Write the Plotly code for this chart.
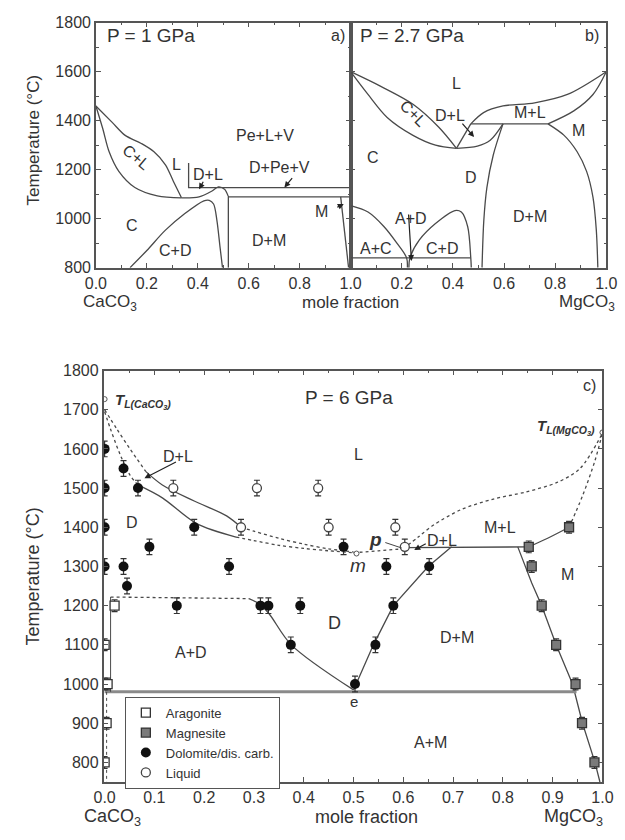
import plotly.graph_objects as go

# ---------------- Panel a (P = 1 GPa) ----------------
a_CL_up_x = [0, 0.064, 0.115, 0.178, 0.228, 0.273, 0.304, 0.336]
a_CL_up_T = [1460, 1393, 1340, 1307, 1273, 1220, 1153, 1085]
a_CL_lo_x = [0, 0.027, 0.052, 0.09, 0.153, 0.241, 0.336]
a_CL_lo_T = [1460, 1367, 1273, 1193, 1127, 1093, 1085]
a_D_x = [0.336, 0.405, 0.456, 0.481, 0.505, 0.519]
a_D_T = [1085, 1089, 1113, 1130, 1120, 1093]
a_DM_x = [0.52, 0.52]
a_DM_T = [1093, 800]
a_CD_x = [0.134, 0.2, 0.273, 0.348, 0.424, 0.445, 0.462, 0.475, 0.487, 0.497]
a_CD_T = [800, 870, 953, 1020, 1073, 1075, 1060, 993, 887, 800]
a_up_x = [0.364, 0.364, 1.0]
a_up_T = [1227, 1127, 1127]
a_lo_x = [0.52, 1.0]
a_lo_T = [1089, 1089]
a_M_x = [0.961, 0.992]
a_M_T = [1089, 800]

# ---------------- Panel b (P = 2.7 GPa) ----------------
b_CL_up_x = [0, 0.118, 0.244, 0.345, 0.414]
b_CL_up_T = [1600, 1540, 1467, 1373, 1287]
b_CL_lo_x = [0, 0.068, 0.143, 0.244, 0.332, 0.414]
b_CL_lo_T = [1600, 1507, 1413, 1340, 1300, 1287]
b_Dsol_x = [0.414, 0.496, 0.546, 0.596]
b_Dsol_T = [1287, 1296, 1320, 1387]
b_Dliq_x = [0.414, 0.47]
b_Dliq_T = [1287, 1387]
b_ML_x = [0.47, 0.52, 0.596, 0.72, 0.848, 1.0]
b_ML_T = [1387, 1433, 1460, 1473, 1507, 1600]
b_per_x = [0.47, 0.772]
b_per_T = [1387, 1387]
b_Msol_x = [0.772, 0.873, 0.948, 1.0]
b_Msol_T = [1387, 1440, 1507, 1600]
b_Msv_x = [0.772, 0.835, 0.886, 0.923, 0.948, 0.961, 0.967]
b_Msv_T = [1387, 1340, 1273, 1193, 1087, 953, 800]
b_Dsv_x = [0.596, 0.558, 0.533, 0.521, 0.514]
b_Dsv_T = [1387, 1260, 1127, 993, 800]
b_AC_x = [0, 0.068, 0.131, 0.181, 0.219, 0.222]
b_AC_T = [1053, 1027, 967, 900, 840, 800]
b_CD_x = [0.228, 0.232, 0.269, 0.332, 0.408, 0.433, 0.458, 0.47, 0.472]
b_CD_T = [800, 840, 913, 980, 1033, 1027, 967, 840, 800]
b_hz_x = [0, 0.47]
b_hz_T = [840, 840]

# ---------------- Panel c (P = 6 GPa) ----------------
c_liq_d1_x = [0, 0.025, 0.051, 0.083]
c_liq_d1_T = [1700, 1650, 1600, 1542]
c_liq_s_x = [0.083, 0.116, 0.18, 0.245, 0.274]
c_liq_s_T = [1542, 1508, 1467, 1429, 1400]
c_liq_d2_x = [0.274, 0.3, 0.35, 0.4, 0.45, 0.5]
c_liq_d2_T = [1400, 1390, 1372, 1357, 1345, 1337]
c_sol_d1_x = [0, 0.012, 0.032, 0.051, 0.067]
c_sol_d1_T = [1695, 1650, 1583, 1533, 1508]
c_sol_s_x = [0.067, 0.116, 0.184, 0.264]
c_sol_s_T = [1508, 1475, 1410, 1375]
c_sol_d2_x = [0.264, 0.3, 0.35, 0.4, 0.45, 0.5]
c_sol_d2_T = [1375, 1366, 1354, 1346, 1340, 1335]
c_mp_x = [0.5, 0.55, 0.6]
c_mp_T = [1335, 1340, 1345]
c_rliq_x = [0.6, 0.63, 0.66, 0.716, 0.781, 0.846, 0.91, 0.955, 1.0]
c_rliq_T = [1345, 1375, 1405, 1445, 1472, 1490, 1515, 1550, 1640]
c_Msol_s_x = [0.852, 0.89, 0.933]
c_Msol_s_T = [1350, 1372, 1400]
c_Msol_d_x = [0.933, 0.96, 0.985, 1.0]
c_Msol_d_T = [1400, 1480, 1570, 1640]
c_per_x = [0.605, 0.852]
c_per_T = [1348, 1350]
c_Dsv_x = [0.5, 0.54, 0.58, 0.65, 0.697]
c_Dsv_T = [985, 1100, 1200, 1300, 1350]
c_Msv_x = [0.83, 0.858, 0.878, 0.907, 0.94, 0.96, 0.985, 0.995]
c_Msv_T = [1350, 1258, 1200, 1100, 1000, 900, 800, 750]
c_AD_d_x = [0.012, 0.29]
c_AD_d_T = [1222, 1218]
c_AD_s_x = [0.29, 0.31, 0.33, 0.375, 0.5]
c_AD_s_T = [1218, 1205, 1180, 1100, 985]
c_eut_x = [0, 0.948]
c_eut_T = [980, 980]
c_vert_x = [0.012, 0.012]
c_vert_T = [1222, 980]
c_vert2_x = [0.004, 0.004]
c_vert2_T = [980, 750]

arag_x = [0.0, 0.004, 0.0, 0.006, 0.0, 0.02]
arag_T = [800, 900, 1000, 1000, 1100, 1200]
magn_x = [0.852, 0.858, 0.933, 0.878, 0.907, 0.946, 0.959, 0.984]
magn_T = [1350, 1300, 1400, 1200, 1100, 1000, 900, 800]
dolo_x = [0.0, 0.0, 0.0, 0.0, 0.038, 0.067, 0.09, 0.18, 0.038, 0.045, 0.145, 0.25,
          0.313, 0.329, 0.374, 0.393, 0.48, 0.503, 0.544, 0.566, 0.58, 0.652]
dolo_T = [1600, 1500, 1400, 1300, 1550, 1500, 1350, 1400, 1300, 1250, 1200, 1300,
          1200, 1200, 1100, 1200, 1350, 1000, 1100, 1300, 1200, 1300]
liq_x = [0.138, 0.306, 0.429, 0.274, 0.45, 0.584, 0.603]
liq_T = [1500, 1500, 1500, 1400, 1400, 1400, 1350]
tl_x = [0.0, 1.0, 0.506]
tl_T = [1727, 1642, 1333]

LC = "#4a4a4a"
TC = "#333333"
FONT = "Liberation Sans, Arial, sans-serif"

fig = go.Figure()


def line(xs, ys, ax, dash="solid", width=1.3, color=LC, shape="spline"):
    xa, ya = {"a": ("x", "y"), "b": ("x2", "y2"), "c": ("x3", "y3")}[ax]
    fig.add_trace(go.Scatter(x=xs, y=ys, mode="lines", xaxis=xa, yaxis=ya,
                             line=dict(color=color, width=width, dash=dash, shape=shape, smoothing=0.9),
                             showlegend=False, hoverinfo="skip"))


# panel a
line(a_CL_up_x, a_CL_up_T, "a")
line(a_CL_lo_x, a_CL_lo_T, "a")
line(a_D_x, a_D_T, "a")
line(a_DM_x, a_DM_T, "a", shape="linear")
line(a_CD_x, a_CD_T, "a")
line(a_up_x, a_up_T, "a", shape="linear")
line(a_lo_x, a_lo_T, "a", shape="linear")
line(a_M_x, a_M_T, "a", shape="linear")
# panel b
line(b_CL_up_x, b_CL_up_T, "b")
line(b_CL_lo_x, b_CL_lo_T, "b")
line(b_Dsol_x, b_Dsol_T, "b")
line(b_Dliq_x, b_Dliq_T, "b", shape="linear")
line(b_ML_x, b_ML_T, "b")
line(b_per_x, b_per_T, "b", shape="linear")
line(b_Msol_x, b_Msol_T, "b")
line(b_Msv_x, b_Msv_T, "b")
line(b_Dsv_x, b_Dsv_T, "b")
line(b_AC_x, b_AC_T, "b")
line(b_CD_x, b_CD_T, "b")
line(b_hz_x, b_hz_T, "b", shape="linear")
# panel c
line(c_liq_d1_x, c_liq_d1_T, "c", dash="dot")
line(c_liq_s_x, c_liq_s_T, "c")
line(c_liq_d2_x, c_liq_d2_T, "c", dash="dot")
line(c_sol_d1_x, c_sol_d1_T, "c", dash="dot")
line(c_sol_s_x, c_sol_s_T, "c")
line(c_sol_d2_x, c_sol_d2_T, "c", dash="dot")
line(c_mp_x, c_mp_T, "c", dash="dot")
line(c_rliq_x, c_rliq_T, "c", dash="dot")
line(c_Msol_s_x, c_Msol_s_T, "c")
line(c_Msol_d_x, c_Msol_d_T, "c", dash="dot")
line(c_per_x, c_per_T, "c", shape="linear")
line(c_Dsv_x, c_Dsv_T, "c", shape="linear")
line(c_Msv_x, c_Msv_T, "c", shape="linear")
line(c_AD_d_x, c_AD_d_T, "c", dash="dot", shape="linear")
line(c_AD_s_x, c_AD_s_T, "c")
line(c_eut_x, c_eut_T, "c", width=3, color="#8a8a8a", shape="linear")
line(c_vert_x, c_vert_T, "c", shape="linear", width=1)
line(c_vert2_x, c_vert2_T, "c", dash="dot", shape="linear", width=1)

EB = dict(type="constant", value=20, thickness=1.2, width=3, color="#333")
fig.add_trace(go.Scatter(x=arag_x, y=arag_T, mode="markers", name="Aragonite", xaxis="x3", yaxis="y3",
                         marker=dict(symbol="square", size=9, color="white", line=dict(color="#333", width=1.3)),
                         error_y=dict(EB, value=15)))
fig.add_trace(go.Scatter(x=magn_x, y=magn_T, mode="markers", name="Magnesite", xaxis="x3", yaxis="y3",
                         marker=dict(symbol="square", size=9, color="#7a7a7a", line=dict(color="#333", width=1.3)),
                         error_y=dict(EB, value=15)))
fig.add_trace(go.Scatter(x=dolo_x, y=dolo_T, mode="markers", name="Dolomite/dis. carb.", xaxis="x3", yaxis="y3",
                         marker=dict(symbol="circle", size=10, color="#111"),
                         error_y=EB))
fig.add_trace(go.Scatter(x=liq_x, y=liq_T, mode="markers", name="Liquid", xaxis="x3", yaxis="y3",
                         marker=dict(symbol="circle", size=9, color="white", line=dict(color="#444", width=1.3)),
                         error_y=EB))
fig.add_trace(go.Scatter(x=tl_x, y=tl_T, mode="markers", xaxis="x3", yaxis="y3", showlegend=False,
                         marker=dict(symbol="circle", size=5, color="white", line=dict(color="#555", width=1)),
                         hoverinfo="skip"))

annots = []


def lab(x, y, text, ax, size=16, **kw):
    xa, ya = {"a": ("x", "y"), "b": ("x2", "y2"), "c": ("x3", "y3"), "p": ("paper", "paper")}[ax]
    d = dict(x=x, y=y, xref=xa, yref=ya, text=text, showarrow=False, xanchor="center", yanchor="middle",
             font=dict(size=size, color=TC, family=FONT))
    d.update(kw)
    annots.append(d)


def arrow(x, y, axp, ax, ay, head=2):
    xa, ya = {"a": ("x", "y"), "b": ("x2", "y2"), "c": ("x3", "y3")}[axp]
    annots.append(dict(x=x, y=y, xref=xa, yref=ya, text="", showarrow=True, ax=ax, ay=ay,
                       arrowhead=head, arrowsize=1, arrowwidth=1.2, arrowcolor="#222"))


# panel a labels
lab(0.034, 1748, "P = 1 GPa", "a", size=19, xanchor="left")
lab(0.985, 1748, "a)", "a", size=16, xanchor="right")
lab(0.159, 1248, "C+L", "a", textangle=40)
lab(0.318, 1220, "L", "a")
lab(0.663, 1340, "Pe+L+V", "a")
lab(0.44, 1180, "D+L", "a")
lab(0.72, 1208, "D+Pe+V", "a")
lab(0.14, 972, "C", "a")
lab(0.31, 868, "C+D", "a")
lab(0.678, 912, "D+M", "a")
lab(0.886, 1028, "M", "a")
arrow(0.405, 1120, "a", 5, -9)
arrow(0.74, 1127, "a", 9, -11)
arrow(0.973, 1060, "a", -8, 4)
# panel b labels
lab(0.03, 1748, "P = 2.7 GPa", "b", size=19, xanchor="left")
lab(0.98, 1748, "b)", "b", size=16, xanchor="right")
lab(0.415, 1552, "L", "b")
lab(0.245, 1428, "C+L", "b", textangle=45)
lab(0.389, 1420, "D+L", "b")
lab(0.70, 1432, "M+L", "b")
lab(0.89, 1360, "M", "b")
lab(0.087, 1248, "C", "b")
lab(0.47, 1168, "D", "b")
lab(0.70, 1008, "D+M", "b")
lab(0.238, 1000, "A+D", "b")
lab(0.098, 880, "A+C", "b")
lab(0.358, 880, "C+D", "b")
arrow(0.483, 1333, "b", -13, -15)
annots.append(dict(x=0.238, y=827, xref="x2", yref="y2", text="", showarrow=True, ax=-3, ay=-48,
                   arrowhead=2, arrowsize=1, arrowwidth=1.2, arrowcolor="#222"))
# panel c labels
lab(0.49, 1732, "P = 6 GPa", "c", size=19)
lab(0.975, 1762, "c)", "c", size=16)
lab(0.51, 1585, "L", "c")
lab(0.016, 1722, "<b><i>T</i></b><sub><b><i>L(CaCO<sub>3</sub>)</i></b></sub>", "c", size=15, xanchor="left")
lab(0.99, 1655, "<b><i>T</i></b><sub><b><i>L(MgCO<sub>3</sub>)</i></b></sub>", "c", size=15, xanchor="right")
lab(0.147, 1580, "D+L", "c")
lab(0.054, 1412, "D", "c")
lab(0.795, 1400, "M+L", "c")
lab(0.93, 1280, "M", "c")
lab(0.461, 1155, "D", "c", size=18)
lab(0.707, 1120, "D+M", "c")
lab(0.174, 1080, "A+D", "c")
lab(0.655, 850, "A+M", "c")
lab(0.545, 1369, "<b><i>p</i></b>", "c", size=19)
lab(0.508, 1303, "<i>m</i>", "c", size=19)
lab(0.5, 955, "e", "c", size=15)
lab(0.678, 1367, "D+L", "c")
arrow(0.08, 1525, "c", 33, -17)
arrow(0.622, 1342, "c", 13, -7)
annots.append(dict(x=0.597, y=1347, xref="x3", yref="y3", text="", showarrow=True, ax=-18, ay=-6,
                   arrowhead=0, arrowwidth=1, arrowcolor="#444"))

# axis titles / end members
lab(23 / 625, (840 - 135) / 840, "Temperature (°C)", "p", size=17, textangle=-90)
lab(23 / 625, (840 - 580) / 840, "Temperature (°C)", "p", size=18, textangle=-90)
lab(103 / 625, (840 - 301) / 840, "CaCO<sub>3</sub>", "p", size=17)
lab(352 / 625, (840 - 301) / 840, "mole fraction", "p", size=17)
lab(597 / 625, (840 - 301) / 840, "MgCO<sub>3</sub>", "p", size=17)
lab(105 / 625, (840 - 826) / 840, "CaCO<sub>3</sub>", "p", size=18)
lab(368 / 625, (840 - 826) / 840, "mole fraction", "p", size=18)
lab(583 / 625, (840 - 826) / 840, "MgCO<sub>3</sub>", "p", size=18)

AX = dict(showline=True, linewidth=1.5, linecolor="#555", mirror="allticks", ticks="inside",
          ticklen=5, tickwidth=1.2, tickcolor="#555", showgrid=False, zeroline=False,
          tickfont=dict(size=16, color=TC, family=FONT))

fig.update_layout(
    width=625, height=840, margin=dict(l=0, r=0, t=0, b=0),
    paper_bgcolor="white", plot_bgcolor="white",
    font=dict(family=FONT, color=TC),
    xaxis=dict(AX, domain=[88 / 625, 352 / 625], range=[0, 1], tickvals=[0, 0.2, 0.4, 0.6, 0.8, 1.0],
               ticktext=["0.0", "0.2", "0.4", "0.6", "0.8", "1.0"], anchor="y",
               minor=dict(ticks="inside", ticklen=3, dtick=0.1, tickcolor="#555")),
    yaxis=dict(AX, domain=[(840 - 265) / 840, (840 - 15) / 840], range=[800, 1800], dtick=200, anchor="x",
               minor=dict(ticks="inside", ticklen=3, dtick=100, tickcolor="#555")),
    xaxis2=dict(AX, domain=[352 / 625, 617 / 625], range=[0, 1], tickvals=[0.2, 0.4, 0.6, 0.8, 1.0],
                ticktext=["0.2", "0.4", "0.6", "0.8", "1.0"], anchor="y2",
                minor=dict(ticks="inside", ticklen=3, dtick=0.1, tickcolor="#555")),
    yaxis2=dict(AX, domain=[(840 - 265) / 840, (840 - 15) / 840], range=[800, 1800], dtick=200,
                anchor="x2", showticklabels=False,
                minor=dict(ticks="inside", ticklen=3, dtick=100, tickcolor="#555")),
    xaxis3=dict(AX, domain=[96 / 625, 613 / 625], range=[-0.002, 1.0], dtick=0.1, tickformat=".1f",
                anchor="y3", minor=dict(ticks="inside", ticklen=3, dtick=0.05, tickcolor="#555")),
    yaxis3=dict(AX, domain=[(840 - 790) / 840, (840 - 370) / 840], range=[750, 1800], dtick=100,
                anchor="x3", tick0=800),
    legend=dict(x=118 / 625, y=(840 - 703) / 840, xanchor="left", yanchor="top", bgcolor="white",
                bordercolor="#555", borderwidth=1, font=dict(size=13, color=TC, family=FONT),
                tracegroupgap=0, itemwidth=30),
    annotations=annots,
)

fig.write_html("out.html")
